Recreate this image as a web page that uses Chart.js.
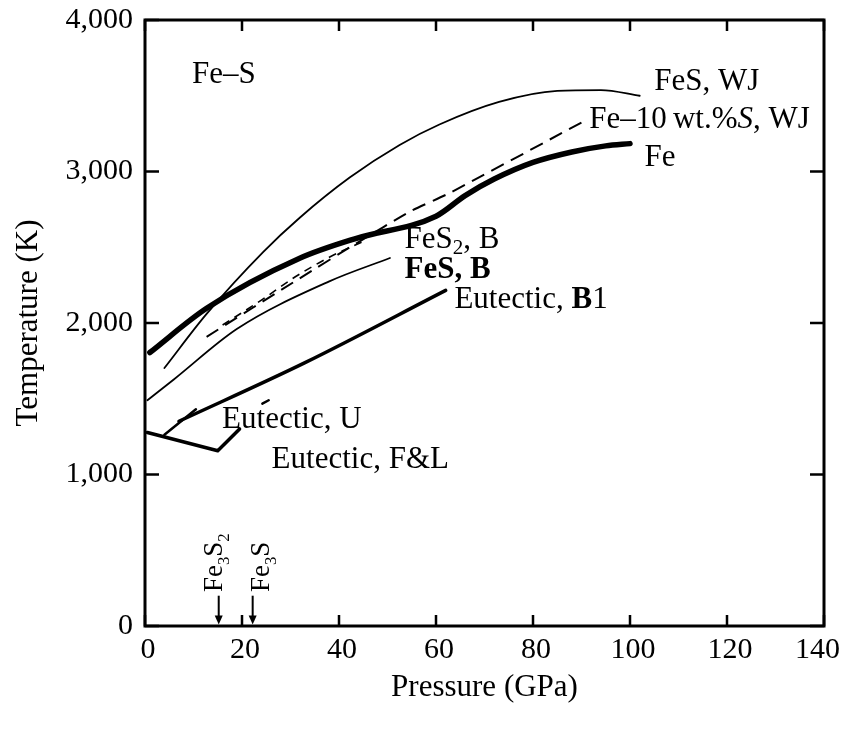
<!DOCTYPE html>
<html>
<head>
<meta charset="utf-8">
<script src="https://cdn.jsdelivr.net/npm/chart.js@4.4.1/dist/chart.umd.min.js"></script>
<style>
  html, body { margin: 0; padding: 0; background: #fff; }
</style>
</head>
<body>
<canvas id="grafica" width="843" height="731"></canvas>
<script>
// Ejes
const xTicks = [0, 20, 40, 60, 80, 100, 120, 140];
const yTicks = [0, 1000, 2000, 3000, 4000];

// Curvas de fusion (presion en GPa, temperatura en K)
const feP = [1, 12.7, 31.9, 43.6, 60, 66, 72, 80, 88, 95, 100];
const feT = [1805, 2097, 2427, 2559, 2705, 2841, 2950, 3060, 3129, 3169, 3184];

const fesWjP = [4, 12.7, 24.4, 31.9, 42.2, 52.5, 60.7, 73, 85, 94, 102];
const fesWjT = [1703, 2060, 2470, 2695, 2960, 3175, 3310, 3459, 3532, 3537, 3500];

const fe10P = [12.7, 31.9, 43.6, 54.6, 62.8, 90.2];
const fe10T = [1909, 2295, 2526, 2735, 2858, 3327];

const fes2BP = [16, 24, 31, 38, 45];
const fes2BT = [1987, 2151, 2305, 2434, 2538];

const fesBP = [0.5, 6, 19, 38, 50.5];
const fesBT = [1490, 1629, 1962, 2275, 2429];

const eutB1P = [7, 33, 62];
const eutB1T = [1351, 1738, 2215];

const eutFLP = [0.5, 15, 19.5];
const eutFLT = [1277, 1157, 1301];

// Eutectico U: el tramo central queda tapado por la etiqueta
const eutUP = [4, 10.5, 17, 24.2, 25.5];
const eutUT = [1262, 1431, null, 1468, 1490];

// Flechas de Fe3S2 y Fe3S
const flechasP = [15.2, 22.2];

// Etiquetas del grafico
const etiquetas = [
  { p: 9.7,  t: 3637, partes: [['Fe–S']] },
  { p: 105,  t: 3591, partes: [['FeS, WJ']] },
  { p: 91.6, t: 3340, partes: [['Fe–10\u2009wt.%'], ['S', 'i'], [', WJ']] },
  { p: 103,  t: 3089, partes: [['Fe']] },
  { p: 53.5, t: 2548, partes: [['FeS'], ['2', 's'], [', B']] },
  { p: 53.5, t: 2350, partes: [['FeS, B', 'b']] },
  { p: 63.8, t: 2152, partes: [['Eutectic, '], ['B', 'b'], ['1']] },
  { p: 15.9, t: 1360, partes: [['Eutectic, U']] },
  { p: 26.1, t: 1096, partes: [['Eutectic, F&L']] }
];
const etiquetasVert = [
  { p: 15.85, t: 224, partes: [['Fe'], ['3', 's'], ['S'], ['2', 's']] },
  { p: 25.5,  t: 224, partes: [['Fe'], ['3', 's'], ['S']] }
];

const fuente = '"Liberation Serif", "DejaVu Serif", serif';

function puntos(px, py) {
  return px.map((v, i) => ({ x: v, y: py[i] }));
}

function serie(px, py, ancho, extra) {
  return Object.assign({
    data: puntos(px, py),
    borderColor: '#000',
    borderWidth: ancho,
    pointRadius: 0,
    showLine: true,
    spanGaps: false,
    fill: false,
    cubicInterpolationMode: 'monotone',
    borderCapStyle: 'round',
    borderJoinStyle: 'round'
  }, extra || {});
}

// Texto con subindices, negritas y cursivas
function fontDe(estilo, size) {
  const b = estilo === 'b' ? 'bold ' : '';
  const it = estilo === 'i' ? 'italic ' : '';
  return it + b + size + 'px ' + fuente;
}
function dibujarRico(ctx, partes, x, y, size, escalaSub) {
  let cx = x;
  partes.forEach(([txt, est]) => {
    const sub = est === 's';
    ctx.font = fontDe(est, sub ? size * escalaSub : size);
    ctx.fillText(txt, cx, sub ? y + size * 0.28 : y);
    cx += ctx.measureText(txt).width;
  });
}

const anotaciones = {
  id: 'anotaciones',
  afterDatasetsDraw(chart) {
    const { ctx, chartArea: a, scales: { x, y } } = chart;
    ctx.save();
    ctx.fillStyle = '#000';
    ctx.textAlign = 'left';
    ctx.textBaseline = 'middle';

    etiquetas.forEach(e => {
      dibujarRico(ctx, e.partes, x.getPixelForValue(e.p), y.getPixelForValue(e.t), 31, 0.68);
    });

    // Etiquetas verticales
    ctx.textBaseline = 'alphabetic';
    etiquetasVert.forEach(e => {
      ctx.save();
      ctx.translate(x.getPixelForValue(e.p), y.getPixelForValue(e.t));
      ctx.rotate(-Math.PI / 2);
      dibujarRico(ctx, e.partes, 0, 0, 27, 0.62);
      ctx.restore();
    });

    // Flechas
    ctx.strokeStyle = '#000';
    ctx.lineWidth = 2;
    flechasP.forEach(p => {
      const px = x.getPixelForValue(p);
      const y0 = y.getPixelForValue(200);
      const y1 = y.getPixelForValue(10);
      ctx.beginPath();
      ctx.moveTo(px, y0);
      ctx.lineTo(px, y1 - 6);
      ctx.stroke();
      ctx.beginPath();
      ctx.moveTo(px - 4, y1 - 9);
      ctx.lineTo(px + 4, y1 - 9);
      ctx.lineTo(px, y1);
      ctx.closePath();
      ctx.fill();
    });

    // Etiquetas del eje X (la ultima no se sale del lienzo)
    ctx.font = '30px ' + fuente;
    ctx.textAlign = 'center';
    ctx.textBaseline = 'top';
    xTicks.forEach(v => {
      const txt = String(v);
      const w = ctx.measureText(txt).width;
      const px = Math.min(x.getPixelForValue(v) + 3, chart.width - w / 2 - 3);
      ctx.fillText(txt, px, a.bottom + 9);
    });

    // Marco y marcas hacia adentro
    ctx.lineWidth = 3;
    ctx.strokeRect(a.left, a.top, a.right - a.left, a.bottom - a.top);
    ctx.lineWidth = 2.5;
    ctx.beginPath();
    xTicks.forEach(v => {
      const px = x.getPixelForValue(v);
      ctx.moveTo(px, a.bottom);
      ctx.lineTo(px, a.bottom - 11);
      ctx.moveTo(px, a.top);
      ctx.lineTo(px, a.top + 11);
    });
    yTicks.forEach(v => {
      const py = y.getPixelForValue(v);
      ctx.moveTo(a.left, py);
      ctx.lineTo(a.left + 14, py);
      ctx.moveTo(a.right, py);
      ctx.lineTo(a.right - 14, py);
    });
    ctx.stroke();
    ctx.restore();
  }
};

const canvas = document.getElementById('grafica');

window.miGrafica = new Chart(canvas, {
  type: 'scatter',
  data: {
    datasets: [
      serie(fesWjP, fesWjT, 1.8),
      serie(fe10P, fe10T, 2, { borderDash: [14, 8], borderCapStyle: 'butt', cubicInterpolationMode: 'default', tension: 0.2 }),
      serie(fes2BP, fes2BT, 1.6, { borderDash: [8, 6], borderCapStyle: 'butt' }),
      serie(fesBP, fesBT, 1.8),
      serie(eutB1P, eutB1T, 3.5),
      serie(eutUP, eutUT, 2.5, { cubicInterpolationMode: 'default', tension: 0 }),
      serie(eutFLP, eutFLT, 3.5, { cubicInterpolationMode: 'default', tension: 0 }),
      serie(feP, feT, 5.5)
    ]
  },
  options: {
    responsive: false,
    animation: false,
    devicePixelRatio: 1,
    layout: { padding: { top: 20, right: 19, left: 0, bottom: 0 } },
    plugins: {
      legend: { display: false },
      tooltip: { enabled: false }
    },
    scales: {
      x: {
        type: 'linear',
        min: 0,
        max: 140,
        afterBuildTicks: s => { s.ticks = xTicks.map(v => ({ value: v })); },
        afterFit: s => { s.height = 105; s.paddingRight = 0; s.paddingLeft = 0; },
        grid: { display: false, drawTicks: false },
        border: { display: false },
        ticks: { display: false },
        title: {
          display: true,
          text: 'Pressure (GPa)',
          color: '#000',
          padding: { top: 0, bottom: 25 },
          font: { family: fuente, size: 31 }
        }
      },
      y: {
        type: 'linear',
        min: 0,
        max: 4000,
        afterBuildTicks: s => { s.ticks = yTicks.map(v => ({ value: v })); },
        afterFit: s => { s.width = 145; s.paddingTop = 0; s.paddingBottom = 0; },
        grid: { display: false, drawTicks: false },
        border: { display: false },
        ticks: {
          color: '#000',
          padding: 12,
          font: { family: fuente, size: 30 },
          callback: v => v.toLocaleString('en-US')
        },
        title: {
          display: true,
          text: 'Temperature (K)',
          color: '#000',
          padding: { top: 10, bottom: 0 },
          font: { family: fuente, size: 31 }
        }
      }
    }
  },
  plugins: [anotaciones]
});
</script>
</body>
</html>
